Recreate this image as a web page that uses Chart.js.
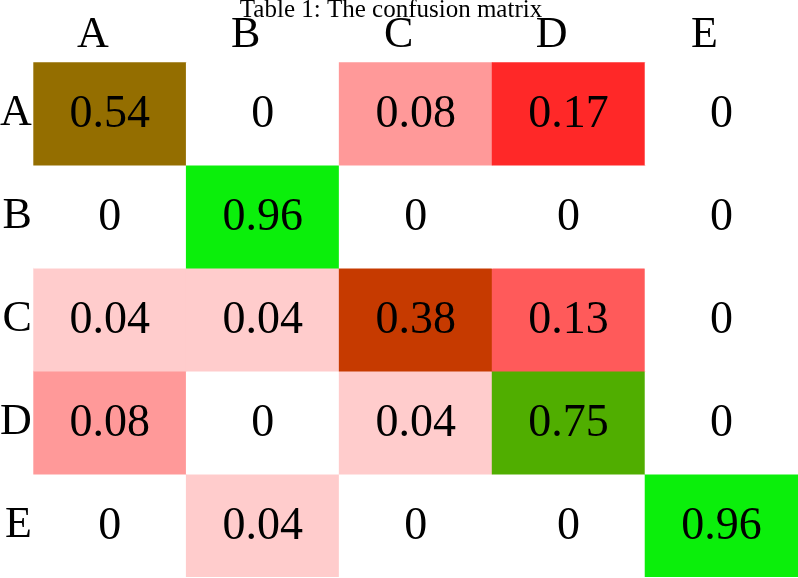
<!DOCTYPE html>
<html>
<head>
<meta charset="utf-8">
<script src="https://cdn.jsdelivr.net/npm/chart.js@4/dist/chart.umd.min.js"></script>
<style>
  html, body { margin: 0; padding: 0; background: #ffffff; }
  #wrap { width: 798px; height: 578px; }
</style>
</head>
<body>
<div id="wrap"><canvas id="c" width="798" height="578"></canvas></div>
<script>
// ---- data ----
const titleText = 'Table 1: The confusion matrix';
const rowLabels = ['A', 'B', 'C', 'D', 'E'];   // true class (rows)
const colLabels = ['A', 'B', 'C', 'D', 'E'];   // predicted class (columns)
const rowA = [0.54, 0, 0.08, 0.17, 0];
const rowB = [0, 0.96, 0, 0, 0];
const rowC = [0.04, 0.04, 0.38, 0.13, 0];
const rowD = [0.08, 0, 0.04, 0.75, 0];
const rowE = [0, 0.04, 0, 0, 0.96];
const matrix = [rowA, rowB, rowC, rowD, rowE];

// ---- styles ----
const cellColors = [
  ['#946e00', '#ffffff', '#ff9999', '#ff2828', '#ffffff'],
  ['#ffffff', '#0bef0b', '#ffffff', '#ffffff', '#ffffff'],
  ['#ffcccc', '#ffcccc', '#c63a00', '#ff5a5a', '#ffffff'],
  ['#ff9999', '#ffffff', '#ffcccc', '#50ae00', '#ffffff'],
  ['#ffffff', '#ffcccc', '#ffffff', '#ffffff', '#0bef0b']
];
const serif = "'Liberation Serif', 'Times New Roman', serif";

const datasets = matrix.map((row, i) => ({
  label: rowLabels[i],
  data: row.map(() => [i, i + 1]),
  values: row,
  backgroundColor: cellColors[i],
  borderWidth: 0,
  categoryPercentage: 1.0,
  barPercentage: 1.0,
  grouped: false
}));

const cellText = {
  id: 'cellText',
  afterDatasetsDraw(chart) {
    const ctx = chart.ctx;
    ctx.save();
    ctx.font = "46px " + serif;
    ctx.fillStyle = '#000000';
    ctx.textAlign = 'center';
    ctx.textBaseline = 'middle';
    chart.data.datasets.forEach((ds, i) => {
      const meta = chart.getDatasetMeta(i);
      meta.data.forEach((el, j) => {
        const v = ds.values[j];
        const txt = v === 0 ? '0' : v.toFixed(2);
        ctx.fillText(txt, el.x, (el.y + el.base) / 2 + 1);
      });
    });
    ctx.restore();
  }
};

const captionPlugin = {
  id: 'caption',
  afterDraw(chart) {
    const ctx = chart.ctx;
    ctx.save();
    ctx.font = "25px " + serif;
    ctx.fillStyle = '#000000';
    ctx.textAlign = 'center';
    ctx.textBaseline = 'alphabetic';
    ctx.fillText(titleText, 391, 17);
    ctx.restore();
  }
};

new Chart(document.getElementById('c'), {
  type: 'bar',
  data: { labels: colLabels, datasets: datasets },
  plugins: [cellText, captionPlugin],
  options: {
    responsive: false,
    animation: false,
    devicePixelRatio: 1,
    layout: { padding: { left: 0, right: 0, top: 0, bottom: 1 } },
    plugins: {
      legend: { display: false },
      tooltip: { enabled: false },
      title: { display: false }
    },
    scales: {
      x: {
        position: 'top',
        offset: true,
        grid: { display: false, drawTicks: false },
        border: { display: false },
        ticks: {
          color: '#000000',
          font: { family: serif, size: 44, lineHeight: 1 },
          padding: 5,
          labelOffset: -17,
          maxRotation: 0
        },
        afterFit(scale) {
          scale.height = 62.3;
          scale.paddingLeft = 0; scale.paddingRight = 0;
        }
      },
      y: {
        type: 'linear',
        min: 0,
        max: 5,
        reverse: true,
        grid: { display: false, drawTicks: false },
        border: { display: false },
        afterBuildTicks(scale) {
          scale.ticks = rowLabels.map((r, i) => ({ value: i + 0.5 }));
        },
        ticks: {
          color: '#000000',
          font: { family: serif, size: 44, lineHeight: 1 },
          padding: 1.5,
          labelOffset: 0,
          callback(value) { return rowLabels[Math.floor(value)]; }
        },
        afterFit(scale) {
          scale.width = 33.3;
          scale.paddingTop = 0; scale.paddingBottom = 0;
        }
      }
    }
  }
});
</script>
</body>
</html>
